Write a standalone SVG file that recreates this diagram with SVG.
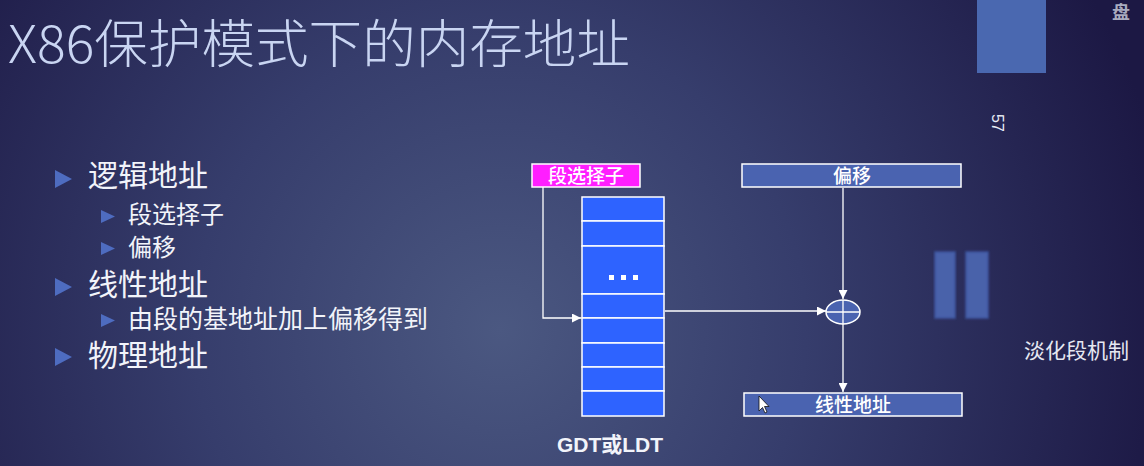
<svg xmlns="http://www.w3.org/2000/svg" width="1144" height="466" viewBox="0 0 1144 466">
<defs>
<radialGradient id="bg" cx="500" cy="330" r="680" gradientUnits="userSpaceOnUse">
<stop offset="0" stop-color="#4b5881"/>
<stop offset="0.45" stop-color="#363d6c"/>
<stop offset="1" stop-color="#1c1844"/>
</radialGradient>
<marker id="arr" viewBox="0 0 10 10" refX="10" refY="5" markerWidth="9" markerHeight="9" markerUnits="userSpaceOnUse" orient="auto">
<path d="M0,0 L10,5 L0,10 z" fill="#ffffff"/>
</marker>
<filter id="soft"><feGaussianBlur stdDeviation="0.8"/></filter>
</defs>
<style>
.cjk{font-family:"Noto Sans CJK SC","Liberation Sans",sans-serif;}
.bl{fill:#f2f4fa;}
.tri{fill:#4e6cc0;}
.box{stroke:#ffffff;stroke-width:1.5;}
.row{fill:#2e63ff;stroke:#ffffff;stroke-width:1.5;}
.con{stroke:#ffffff;stroke-width:1.3;fill:none;}
.lbl{fill:#ffffff;font-size:19px;font-weight:500;text-anchor:middle;}
</style>
<rect width="1144" height="466" fill="url(#bg)"/>

<g id="title">
<text x="8" y="63" class="cjk" font-size="52" font-weight="300" fill="#c9d5f2" textLength="622" lengthAdjust="spacingAndGlyphs">X86保护模式下的内存地址</text>
</g>

<g id="decor">
<rect x="977" y="0" width="69" height="73" fill="#4a68b0"/>
<text x="1112" y="19" class="cjk" font-size="18" font-weight="bold" fill="#a9abbf">盘</text>
<text x="0" y="0" font-family="Liberation Sans,sans-serif" font-size="16" fill="#e8ecf6" transform="translate(992,114) rotate(90)">57</text>
<rect x="935" y="252" width="20" height="66" fill="#4a62aa" stroke="#3c56a0" stroke-width="1.5" filter="url(#soft)"/>
<rect x="966" y="252" width="22" height="66" fill="#4a62aa" stroke="#3c56a0" stroke-width="1.5" filter="url(#soft)"/>
<text x="1024" y="358" class="cjk" font-size="21" fill="#e6e8f2">淡化段机制</text>
</g>

<g id="bullets">
<path class="tri" d="M55,170 L72,179 L55,188 z"/>
<text x="88" y="186" class="cjk bl" font-size="30">逻辑地址</text>
<path class="tri" d="M101,210 L115,216.5 L101,223 z"/>
<text x="128" y="223" class="cjk bl" font-size="24">段选择子</text>
<path class="tri" d="M101,242 L115,248.5 L101,255 z"/>
<text x="128" y="256" class="cjk bl" font-size="24">偏移</text>
<path class="tri" d="M55,278 L72,287 L55,296 z"/>
<text x="88" y="295" class="cjk bl" font-size="30">线性地址</text>
<path class="tri" d="M101,314 L115,320.5 L101,327 z"/>
<text x="128" y="328" class="cjk bl" font-size="25">由段的基地址加上偏移得到</text>
<path class="tri" d="M55,348 L72,357 L55,366 z"/>
<text x="88" y="366" class="cjk bl" font-size="30">物理地址</text>
</g>

<g id="selector">
<rect class="box" x="532" y="164" width="108" height="23" fill="#ff1eff"/>
<text x="586" y="182.5" class="cjk lbl">段选择子</text>
</g>

<g id="offset">
<rect class="box" x="742" y="164" width="219" height="23" fill="#4a63b0"/>
<text x="852" y="182.5" class="cjk lbl">偏移</text>
</g>

<g id="table">
<rect class="row" x="582" y="197" width="82" height="24"/>
<rect class="row" x="582" y="221" width="82" height="25"/>
<rect class="row" x="582" y="246" width="82" height="48"/>
<rect class="row" x="582" y="294" width="82" height="24"/>
<rect class="row" x="582" y="318" width="82" height="25"/>
<rect class="row" x="582" y="343" width="82" height="24"/>
<rect class="row" x="582" y="367" width="82" height="24"/>
<rect class="row" x="582" y="391" width="82" height="25"/>
<rect x="609" y="275" width="5" height="5" fill="#ffffff"/>
<rect x="621" y="275" width="5" height="5" fill="#ffffff"/>
<rect x="633" y="275" width="5" height="5" fill="#ffffff"/>
<text x="610" y="452" font-family="Liberation Sans,'Noto Sans CJK SC',sans-serif" font-size="21" font-weight="bold" fill="#f2f4fa" text-anchor="middle">GDT或LDT</text>
</g>

<g id="adder">
<ellipse cx="843" cy="312" rx="17" ry="12" fill="#4a63b0" stroke="#ffffff" stroke-width="1.5"/>
<line x1="826" y1="312" x2="860" y2="312" stroke="#ffffff" stroke-width="1.3"/>
<line x1="843" y1="300" x2="843" y2="324" stroke="#ffffff" stroke-width="1.3"/>
</g>

<g id="linear">
<rect class="box" x="744" y="393" width="218" height="23" fill="#4a63b0"/>
<text x="853" y="411.5" class="cjk lbl">线性地址</text>
</g>

<g id="connectors">
<polyline class="con" points="543,187 543,318 581,318" marker-end="url(#arr)"/>
<line class="con" x1="665" y1="311" x2="826" y2="311" marker-end="url(#arr)"/>
<line class="con" x1="843" y1="188" x2="843" y2="299" marker-end="url(#arr)"/>
<line class="con" x1="843" y1="324" x2="843" y2="392" marker-end="url(#arr)"/>
</g>

<g id="cursor">
<path d="M759,396 L759,411 L762.5,407.5 L765,413 L767,412 L764.5,406.5 L769,406.5 z" fill="#ffffff" stroke="#111111" stroke-width="0.8"/>
</g>
</svg>
